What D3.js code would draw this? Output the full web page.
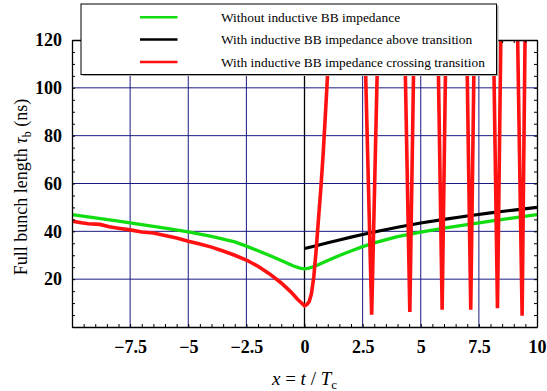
<!DOCTYPE html>
<html>
<head>
<meta charset="utf-8">
<script src="https://cdn.jsdelivr.net/npm/d3@7"></script>
<style>
  html, body { margin: 0; padding: 0; background: #fff; }
  svg { display: block; }
  svg text { font-family: "Liberation Serif", "DejaVu Serif", serif; }
</style>
</head>
<body>
<svg id="chart" width="547" height="391"></svg>
<script>
// ---------------- data ----------------
const xTickValues = [-7.5, -5, -2.5, 0, 2.5, 5, 7.5, 10];
const xTickLabels = ["\u22127.5", "\u22125", "\u22122.5", "0", "2.5", "5", "7.5", "10"];
const yTickValues = [20, 40, 60, 80, 100, 120];
const yTickLabels = ["20", "40", "60", "80", "100", "120"];

// Without inductive BB impedance (green)
const greenX = [-10, -9, -8, -7, -6, -5, -4, -3, -2.5, -2, -1.5, -1, -0.5, -0.2, 0, 0.2, 0.5, 1, 1.5, 2, 2.5, 3, 4, 5, 6, 7, 8, 9, 10];
const greenY = [47.0, 45.6, 44.3, 42.8, 41.3, 39.8, 37.9, 35.6, 33.8, 31.9, 29.9, 27.8, 25.6, 24.6, 24.3, 24.6, 25.6, 27.8, 29.9, 31.8, 33.6, 35.2, 37.8, 39.7, 41.3, 42.8, 44.3, 45.6, 47.0];

// With inductive BB impedance above transition (black)
const blackX = [0, 0.5, 1, 1.5, 2, 2.5, 3, 4, 5, 6, 7, 8, 9, 10];
const blackY = [32.8, 34.0, 35.2, 36.4, 37.6, 38.7, 39.7, 41.7, 43.5, 45.0, 46.4, 47.7, 48.9, 50.0];

// With inductive BB impedance crossing transition (red)
const redX = [-10, -9.6, -9.3, -8.8, -8.4, -8.0, -7.5, -7.0, -6.5, -6.0, -5.5, -5.0, -4.5, -4.0, -3.5, -3.0, -2.5, -2.0, -1.5, -1.0, -0.6, -0.3, 0,
              0.1, 0.2, 0.3, 0.4, 0.5, 0.6, 0.7, 0.8, 0.9, 1.0, 1.1, 1.5,
              2.2, 2.58, 2.89, 3.17, 3.6,
              4.30, 4.53, 4.72, 5.2,
              5.73, 5.92, 6.09, 6.6,
              6.97, 7.15, 7.31, 7.7,
              8.12, 8.30, 8.45, 8.8,
              9.16, 9.36, 9.49, 9.8, 10];
const redY = [44.3, 43.6, 43.2, 42.9, 41.9, 41.3, 40.6, 39.7, 39.3, 38.3, 37.2, 35.9, 34.7, 33.4, 31.8, 30.0, 28.0, 25.4, 22.2, 18.4, 14.8, 11.6, 8.9,
              9.4, 10.6, 14.0, 21.0, 32.0, 45.0, 57.5, 72.0, 89.0, 107.0, 126.0, 300,
              300, 125, 5.1, 125, 300,
              125, 6.3, 125, 300,
              125, 7.2, 125, 300,
              125, 7.2, 125, 300,
              125, 7.9, 125, 300,
              125, 4.7, 125, 300, 400];

const legendLabels = [
  "Without inductive BB impedance",
  "With inductive BB impedance above transition",
  "With inductive BB impedance crossing transition"
];
const seriesColors = ["#11dd11", "#000000", "#ff1111"];

// ---------------- chart ----------------
const svg = d3.select("#chart");
const L = 72, R = 537, T = 40, B = 327;
const x = d3.scaleLinear().domain([-10, 10]).range([L, R]);
const y = d3.scaleLinear().domain([0, 120]).range([B, T]);
const serif = "Liberation Serif, DejaVu Serif, serif";
const grid = "#1a1a80";

svg.append("rect").attr("width", 547).attr("height", 391).attr("fill", "#fff");

// grid
const g = svg.append("g");
g.selectAll("line.vx").data(xTickValues.filter(v => v !== 10)).join("line")
  .attr("x1", d => x(d)).attr("x2", d => x(d)).attr("y1", y(0)).attr("y2", y(120))
  .attr("stroke", d => d === 0 ? "#000" : grid).attr("stroke-width", d => d === 0 ? 1.3 : 1);
g.selectAll("line.hy").data(yTickValues.filter(v => v !== 120)).join("line")
  .attr("x1", x(-10)).attr("x2", x(10)).attr("y1", d => y(d)).attr("y2", d => y(d))
  .attr("stroke", grid).attr("stroke-width", 1);

// curves
svg.append("clipPath").attr("id", "clip").append("rect")
  .attr("x", L).attr("y", T).attr("width", R - L).attr("height", B - T);
const line = d3.line().x(d => x(d[0])).y(d => y(d[1]));
const curves = svg.append("g").attr("clip-path", "url(#clip)");
const series = [
  { xs: greenX, ys: greenY, c: seriesColors[0], w: 3.3 },
  { xs: blackX, ys: blackY, c: seriesColors[1], w: 3.2 },
  { xs: redX, ys: redY, c: seriesColors[2], w: 3.6 }
];
series.forEach(s => {
  curves.append("path")
    .datum(s.xs.map((v, i) => [v, s.ys[i]]))
    .attr("d", line).attr("fill", "none")
    .attr("stroke", s.c).attr("stroke-width", s.w);
});

// axes (ticks inward, mirrored)
const minorX = d3.range(-10, 10.001, 0.5);
const minorY = d3.range(0, 120.001, 5);
function styleAxis(sel) {
  sel.select(".domain").attr("stroke", "#000").attr("stroke-width", 1.3);
  sel.selectAll(".tick line").attr("stroke", "#000").attr("stroke-width", 1);
}
svg.append("g").attr("transform", `translate(0,${B})`)
  .call(d3.axisBottom(x).tickValues(minorX).tickSize(-3).tickSizeOuter(0).tickFormat(""))
  .call(styleAxis);
svg.append("g").attr("transform", `translate(0,${T})`)
  .call(d3.axisTop(x).tickValues(minorX).tickSize(-3).tickSizeOuter(0).tickFormat(""))
  .call(styleAxis);
svg.append("g").attr("transform", `translate(${L},0)`)
  .call(d3.axisLeft(y).tickValues(minorY).tickSize(-3).tickSizeOuter(0).tickFormat(""))
  .call(styleAxis);
svg.append("g").attr("transform", `translate(${R},0)`)
  .call(d3.axisRight(y).tickValues(minorY).tickSize(-3).tickSizeOuter(0).tickFormat(""))
  .call(styleAxis);

// labelled axes
const xAx = svg.append("g").attr("transform", `translate(0,${B})`)
  .call(d3.axisBottom(x).tickValues(xTickValues).tickSize(0).tickPadding(13)
    .tickFormat((d, i) => xTickLabels[i]));
xAx.attr("font-family", null);
xAx.select(".domain").remove();
xAx.selectAll("text").attr("font-family", serif).attr("font-size", 18)
  .attr("font-weight", "bold").attr("fill", "#000");

const yAx = svg.append("g").attr("transform", `translate(${L},0)`)
  .call(d3.axisLeft(y).tickValues(yTickValues).tickSize(0).tickPadding(10)
    .tickFormat((d, i) => yTickLabels[i]));
yAx.attr("font-family", null);
yAx.select(".domain").remove();
yAx.selectAll("text").attr("font-family", serif).attr("font-size", 18)
  .attr("font-weight", "bold").attr("fill", "#000");

// axis titles
const yt = svg.append("text")
  .attr("transform", "translate(27,187) rotate(-90)")
  .attr("text-anchor", "middle").attr("font-family", serif).attr("font-size", 18);
yt.append("tspan").text("Full bunch length ");
yt.append("tspan").attr("font-style", "italic").text("\u03C4");
yt.append("tspan").attr("font-size", 12).attr("dy", 4).text("b");
yt.append("tspan").attr("dy", -4).text(" (ns)");

const xt = svg.append("text")
  .attr("x", (L + R) / 2).attr("y", 385)
  .attr("text-anchor", "middle").attr("font-family", serif).attr("font-size", 19);
xt.append("tspan").attr("font-style", "italic").text("x");
xt.append("tspan").text(" = ");
xt.append("tspan").attr("font-style", "italic").text("t");
xt.append("tspan").text(" / ");
xt.append("tspan").attr("font-style", "italic").text("T");
xt.append("tspan").attr("font-size", 13).attr("dy", 4).text("c");

// legend
const lg = svg.append("g");
lg.append("rect").attr("x", 82.5).attr("y", 5.5).attr("width", 416).attr("height", 70.5)
  .attr("fill", "#aaa");
lg.append("rect").attr("x", 81).attr("y", 4).attr("width", 415.5).attr("height", 70.5)
  .attr("fill", "#fff").attr("stroke", "#000").attr("stroke-width", 1);
const legY = [17.3, 39.6, 62];
legendLabels.forEach((t, i) => {
  lg.append("line").attr("x1", 140).attr("x2", 177.5).attr("y1", legY[i]).attr("y2", legY[i])
    .attr("stroke", seriesColors[i]).attr("stroke-width", 2.5);
  lg.append("text").attr("x", 221).attr("y", legY[i] + 4.5)
    .attr("font-family", serif).attr("font-size", 13.4).attr("fill", "#000").text(t);
});
</script>
</body>
</html>
